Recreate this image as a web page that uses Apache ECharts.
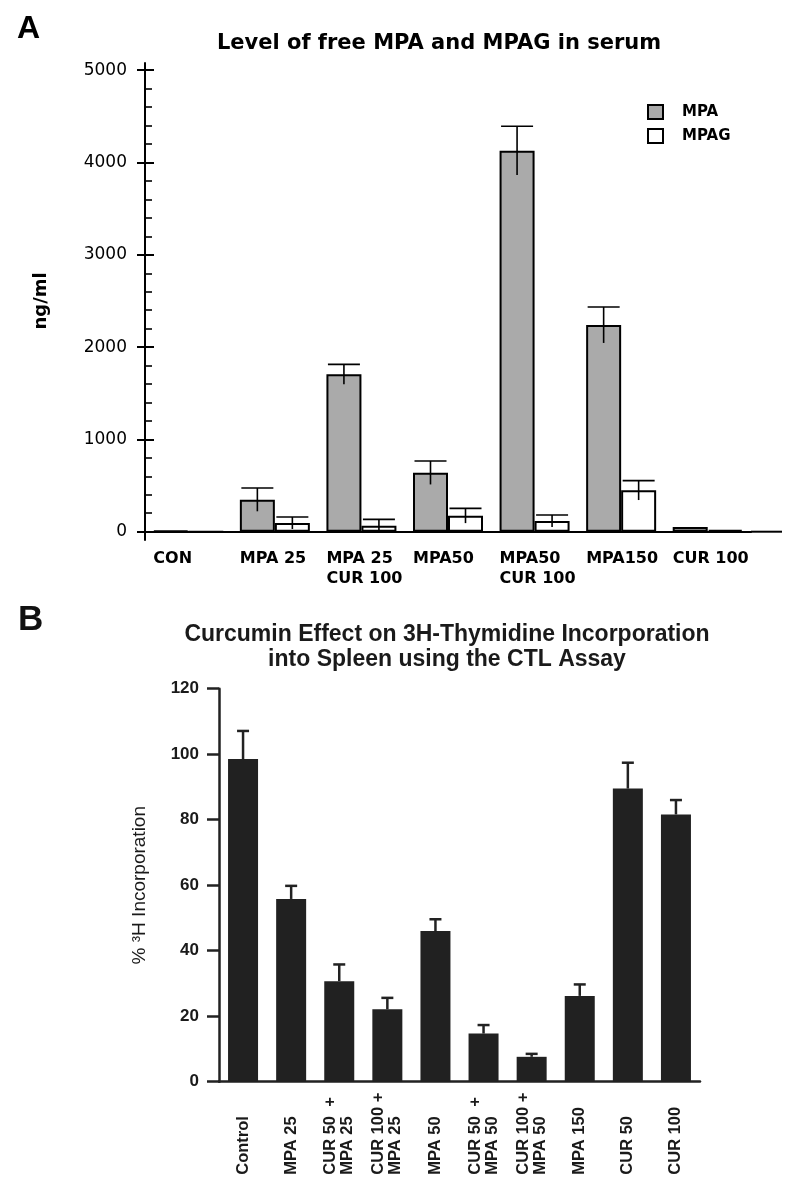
<!DOCTYPE html>
<html><head><meta charset="utf-8">
<script src="https://cdn.jsdelivr.net/npm/echarts@6/dist/echarts.min.js"></script>
<style>html,body{margin:0;padding:0;background:#fff}#c{width:800px;height:1192px}</style>
</head><body><div id="c"></div>
<script>
// ---- Panel A data ----
const catsA = ['CON', 'MPA 25', 'MPA 25\nCUR 100', 'MPA50', 'MPA50\nCUR 100', 'MPA150', 'CUR 100'];
const mpa = [12, 347, 1705, 639, 4128, 2240, 50];
const mpaErr = [0, 126, 108, 127, 264, 195, 0];
const mpag = [0, 94, 65, 173, 116, 448, 20];
const mpagErr = [0, 65, 69, 80, 65, 105, 0];
const yTicksA = [0, 1000, 2000, 3000, 4000, 5000];

// ---- Panel B data ----
const catsB = ['Control', 'MPA 25', 'CUR 50  +\nMPA 25', 'CUR 100 +\nMPA 25', 'MPA 50',
  'CUR 50  +\nMPA 50', 'CUR 100 +\nMPA 50', 'MPA 150', 'CUR 50', 'CUR 100'];
const incorp = [98.5, 55.8, 30.7, 22.1, 46.0, 14.7, 7.6, 26.2, 89.5, 81.6];
const incorpErr = [8.6, 4.0, 5.1, 3.5, 3.6, 2.6, 0.9, 3.5, 7.9, 4.4];
const yTicksB = [0, 20, 40, 60, 80, 100, 120];

const FA = 'DejaVu Sans';
const FB = 'Liberation Sans';
const barW = 35;
const capA = 32;
const capB = 12;

function errA(sign) {
  return function (params, api) {
    const i = api.value(0), v = api.value(1), e = api.value(2);
    if (!e) return null;
    const hi = api.coord([i, v + e]);
    const lo = api.coord([i, v - e]);
    const x = hi[0] + sign * barW / 2;
    const st = { stroke: '#000', lineWidth: 1.6 };
    return { type: 'group', children: [
      { type: 'line', shape: { x1: x, y1: lo[1], x2: x, y2: hi[1] }, style: st },
      { type: 'line', shape: { x1: x - capA / 2, y1: hi[1], x2: x + capA / 2, y2: hi[1] }, style: st }
    ] };
  };
}
function errB(params, api) {
  const i = api.value(0), v = api.value(1), e = api.value(2);
  const top = api.coord([i, v]);
  const hi = api.coord([i, v + e]);
  const st = { stroke: '#222', lineWidth: 2.5 };
  return { type: 'group', children: [
    { type: 'line', shape: { x1: top[0], y1: top[1], x2: top[0], y2: hi[1] }, style: st },
    { type: 'line', shape: { x1: top[0] - capB / 2, y1: hi[1], x2: top[0] + capB / 2, y2: hi[1] }, style: st }
  ] };
}

const chart = echarts.init(document.getElementById('c'), null, { renderer: 'canvas' });
const gridA = { left: 145, top: 70.2, width: 606, height: 461.5 };
const gridB = { left: 219, top: 688.7, width: 481, height: 393 };
const axisBottomA = gridA.top + gridA.height;

chart.setOption({
  backgroundColor: '#fff',
  animation: false,
  title: [
    { text: 'A', left: 17, top: 13, padding: 0, textStyle: { fontFamily: FB, fontWeight: 'bold', fontSize: 32, color: '#000' } },
    { text: 'Level of free MPA and MPAG in serum', left: 439, top: 33, padding: 0, textAlign: 'center',
      textStyle: { fontFamily: FA, fontWeight: 'bold', fontSize: 21, color: '#000' } },
    { text: 'B', left: 18, top: 603, padding: 0, textStyle: { fontFamily: FB, fontWeight: 'bold', fontSize: 35, color: '#111' } },
    { text: 'Curcumin Effect on 3H-Thymidine Incorporation\ninto Spleen using the CTL Assay', left: 447, top: 622, padding: 0,
      textAlign: 'center', textStyle: { fontFamily: FB, fontWeight: 'bold', fontSize: 23, lineHeight: 25, color: '#1a1a1a' } }
  ],
  legend: {
    data: ['MPA', 'MPAG'], orient: 'vertical', left: 647, top: 104, padding: 0,
    icon: 'rect', itemWidth: 15, itemHeight: 14, itemGap: 8,
    textStyle: { fontFamily: FA, fontWeight: 'bold', fontSize: 15, color: '#000', padding: [0, 0, 0, 14] }
  },
  grid: [gridA, Object.assign({}, gridA, { left: gridA.left - barW }), gridB],
  xAxis: [
    { type: 'category', gridIndex: 0, data: catsA,
      axisLine: { lineStyle: { color: '#000', width: 2 } }, axisTick: { show: false },
      axisLabel: { show: false }, splitLine: { show: false } },
    { type: 'category', gridIndex: 1, data: catsA,
      axisLine: { show: false }, axisTick: { show: false }, splitLine: { show: false },
      axisLabel: { align: 'left', margin: 17, interval: 0, lineHeight: 20,
        fontFamily: FA, fontWeight: 'bold', fontSize: 16, color: '#000' } },
    { type: 'category', gridIndex: 2, data: catsB,
      axisLine: { lineStyle: { color: '#222', width: 2.5 } }, axisTick: { show: false }, splitLine: { show: false },
      axisLabel: { rotate: 90, align: 'left', margin: 93, interval: 0, lineHeight: 17,
        fontFamily: FB, fontWeight: 'bold', fontSize: 16.5, color: '#1a1a1a' } }
  ],
  yAxis: [
    { type: 'value', gridIndex: 0, position: 'left', min: yTicksA[0], max: yTicksA[yTicksA.length - 1], interval: yTicksA[1] - yTicksA[0],
      name: 'ng/ml', nameLocation: 'middle', nameGap: 95, nameRotate: 90,
      nameTextStyle: { fontFamily: FA, fontWeight: 'bold', fontSize: 18, color: '#000' },
      axisLine: { show: true, lineStyle: { color: '#000', width: 2 } },
      axisTick: { show: true, inside: false, length: 8, lineStyle: { color: '#000', width: 2 } },
      axisLabel: { margin: 18, fontFamily: FA, fontSize: 17, color: '#000', formatter: v => String(v) },
      splitLine: { show: false } },
    { type: 'value', gridIndex: 0, position: 'left', min: yTicksA[0], max: yTicksA[yTicksA.length - 1], interval: yTicksA[1] - yTicksA[0],
      axisLine: { show: false },
      axisTick: { show: true, inside: true, length: 9, lineStyle: { color: '#000', width: 2 } },
      minorTick: { show: true, splitNumber: 5, length: 7, lineStyle: { color: '#000', width: 1.6 } },
      axisLabel: { show: false }, splitLine: { show: false } },
    { type: 'value', gridIndex: 1, show: false, min: 0, max: 5000 },
    { type: 'value', gridIndex: 2, min: yTicksB[0], max: yTicksB[yTicksB.length - 1], interval: yTicksB[1] - yTicksB[0],
      name: '% \u00B3H Incorporation', nameLocation: 'middle', nameGap: 70, nameRotate: 90,
      nameTextStyle: { fontFamily: FB, fontSize: 19, color: '#1a1a1a' },
      axisLine: { show: true, lineStyle: { color: '#222', width: 2.5 } },
      axisTick: { show: true, inside: false, length: 12, lineStyle: { color: '#222', width: 2.5 } },
      axisLabel: { margin: 20, fontFamily: FB, fontWeight: 'bold', fontSize: 17, color: '#1a1a1a' },
      splitLine: { show: false } }
  ],
  series: [
    { name: 'MPA', type: 'bar', xAxisIndex: 0, yAxisIndex: 0, data: mpa, barWidth: barW, barGap: '0%',
      itemStyle: { color: '#aaaaaa', borderColor: '#000', borderWidth: 2 } },
    { name: 'MPAG', type: 'bar', xAxisIndex: 0, yAxisIndex: 0, data: mpag, barWidth: barW, barGap: '0%',
      itemStyle: { color: '#ffffff', borderColor: '#000', borderWidth: 2 } },
    { type: 'custom', xAxisIndex: 0, yAxisIndex: 0, z: 5, renderItem: errA(-1),
      data: mpa.map((v, i) => [i, v, mpaErr[i]]) },
    { type: 'custom', xAxisIndex: 0, yAxisIndex: 0, z: 5, renderItem: errA(1),
      data: mpag.map((v, i) => [i, v, mpagErr[i]]) },
    { type: 'bar', xAxisIndex: 2, yAxisIndex: 3, data: incorp, barWidth: 30,
      itemStyle: { color: '#212121' } },
    { type: 'custom', xAxisIndex: 2, yAxisIndex: 3, z: 5, renderItem: errB,
      data: incorp.map((v, i) => [i, v, incorpErr[i]]) }
  ],
  graphic: [
    { type: 'line', shape: { x1: gridA.left + gridA.width, y1: axisBottomA, x2: 782, y2: axisBottomA },
      style: { stroke: '#000', lineWidth: 2 } },
    { type: 'line', shape: { x1: gridA.left, y1: gridA.top - 8, x2: gridA.left, y2: gridA.top },
      style: { stroke: '#000', lineWidth: 2 } },
    { type: 'line', shape: { x1: gridA.left, y1: axisBottomA, x2: gridA.left, y2: axisBottomA + 9 },
      style: { stroke: '#000', lineWidth: 2 } }
  ]
});
</script>
</body></html>
